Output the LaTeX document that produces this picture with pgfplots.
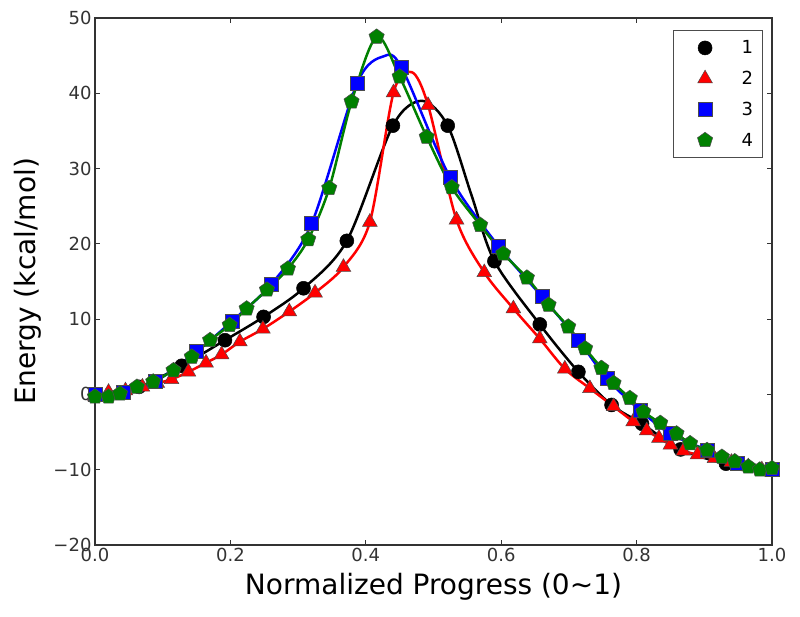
\documentclass[border=0pt]{standalone}
\usepackage{fontspec}
\setmainfont{DejaVu Sans}
\usepackage{pgfplots}
\pgfplotsset{compat=1.18}
\definecolor{mplgreen}{rgb}{0,0.5,0}
\begin{document}
\begin{tikzpicture}
\path[use as bounding box] (-95pt,-72pt) rectangle (705pt,545pt);
\begin{axis}[
  at={(0,0)}, anchor=south west,
  scale only axis, width=677pt, height=527pt,
  xmin=0, xmax=1, ymin=-20, ymax=50,
  xtick={0,0.2,0.4,0.6,0.8,1}, xticklabels={0.0,0.2,0.4,0.6,0.8,1.0},
  ytick={-20,-10,0,10,20,30,40,50}, yticklabels={−20,−10,0,10,20,30,40,50},
  tick align=inside, major tick length=5pt,
  tick label style={font=\fontsize{18}{22}\selectfont, text=black!80},
  every tick/.style={black!80, line width=0.8pt},
  axis line style={black!80, line width=1.2pt},
  xlabel={Normalized Progress (0\textasciitilde 1)},
  ylabel={Energy (kcal/mol)},
  label style={font=\fontsize{28}{34}\selectfont},
  xlabel style={at={(axis description cs:0.5,0)}, anchor=base, yshift=-50pt},
  ylabel style={at={(axis description cs:-0.1,0.5)}, anchor=center},
  legend style={at={(0.986,0.977)}, anchor=north east, draw=black!70, line width=1pt,
    font=\fontsize{18}{22}\selectfont, row sep=12pt, inner xsep=7pt, inner ysep=8pt},
  legend cell align=left,
  legend image code/.code={\path (0pt,0pt) (58pt,0pt);
    \draw[#1,mark repeat=2,mark phase=2] plot coordinates {(0pt,0pt)(24pt,0pt)(48pt,0pt)};},
]
% series 1
\addplot[black, line width=2.5pt, smooth, forget plot] coordinates {
(0.000,0.0) (0.065,1.0) (0.128,3.8) (0.192,7.2) (0.249,10.3) (0.308,14.1) (0.372,20.4)
(0.440,35.7) (0.483,39.0) (0.521,35.7) (0.556,26.5) (0.590,17.7) (0.657,9.3)
(0.714,3.0) (0.763,-1.4) (0.808,-3.9) (0.865,-7.3) (0.932,-9.2) (1.000,-10.0)};
\addplot[only marks, mark=*, mark size=7pt, mark options={fill=black, draw=black, line width=0.5pt}] coordinates {
(0.000,0.0) (0.065,1.0) (0.128,3.8) (0.192,7.2) (0.249,10.3) (0.308,14.1) (0.372,20.4)
(0.440,35.7) (0.521,35.7) (0.590,17.7) (0.657,9.3)
(0.714,3.0) (0.763,-1.4) (0.808,-3.9) (0.865,-7.3) (0.932,-9.2) (1.000,-10.0)};
\addlegendentry{1}
% series 2
\addplot[red, line width=2.5pt, smooth, forget plot] coordinates {
(0.000,-0.3) (0.020,0.3) (0.045,0.5) (0.070,1.0) (0.092,1.5) (0.113,2.0) (0.138,3.0)
(0.164,4.2) (0.187,5.3) (0.214,7.0) (0.248,8.7) (0.287,11.0) (0.325,13.5) (0.367,16.9)
(0.406,22.9) (0.441,40.1) (0.468,42.8) (0.492,38.4) (0.534,23.2)
(0.575,16.2) (0.618,11.4) (0.657,7.4) (0.694,3.4) (0.731,0.8) (0.766,-1.6) (0.795,-3.6)
(0.815,-4.8) (0.833,-5.8) (0.850,-6.7) (0.869,-7.5) (0.890,-8.0) (0.915,-8.5) (0.940,-9.0)
(0.965,-9.6) (0.985,-10.0) (1.000,-10.3)};
\addplot[only marks, mark=triangle*, mark size=8.5pt, mark options={fill=red, draw=black!70, line width=0.5pt}] coordinates {
(0.000,-0.3) (0.020,0.3) (0.045,0.5) (0.070,1.0) (0.092,1.5) (0.113,2.0) (0.138,3.0)
(0.164,4.2) (0.187,5.3) (0.214,7.0) (0.248,8.7) (0.287,11.0) (0.325,13.5) (0.367,16.9)
(0.406,22.9) (0.441,40.1) (0.492,38.4) (0.534,23.2)
(0.575,16.2) (0.618,11.4) (0.657,7.4) (0.694,3.4) (0.731,0.8) (0.766,-1.6) (0.795,-3.6)
(0.815,-4.8) (0.833,-5.8) (0.850,-6.7) (0.869,-7.5) (0.890,-8.0) (0.915,-8.5) (0.940,-9.0)
(0.965,-9.6) (0.985,-10.0) (1.000,-10.3)};
\addlegendentry{2}
% series 3
\addplot[blue, line width=2.5pt, smooth, forget plot] coordinates {
(0.000,0.0) (0.041,0.3) (0.089,1.7) (0.150,5.7) (0.202,9.7) (0.261,14.7) (0.320,22.7)
(0.387,41.3) (0.426,44.9) (0.453,43.4) (0.524,28.9) (0.596,19.7) (0.660,13.0) (0.714,7.2)
(0.756,2.1) (0.805,-2.1) (0.849,-5.2) (0.904,-7.4) (0.948,-9.2) (1.000,-10.0)};
\addplot[only marks, mark=square*, mark size=7pt, mark options={fill=blue, draw=black!70, line width=0.5pt}] coordinates {
(0.000,0.0) (0.041,0.3) (0.089,1.7) (0.150,5.7) (0.202,9.7) (0.261,14.7) (0.320,22.7)
(0.387,41.3) (0.453,43.4) (0.524,28.9) (0.596,19.7) (0.660,13.0) (0.714,7.2)
(0.756,2.1) (0.805,-2.1) (0.849,-5.2) (0.904,-7.4) (0.948,-9.2) (1.000,-10.0)};
\addlegendentry{3}
% series 4
\addplot[mplgreen, line width=2.5pt, smooth, forget plot] coordinates {
(0.000,-0.3) (0.020,-0.3) (0.037,0.1) (0.062,1.0) (0.086,1.7) (0.116,3.2) (0.143,5.0)
(0.170,7.2) (0.199,9.2) (0.224,11.4) (0.254,13.9) (0.285,16.7) (0.315,20.6) (0.346,27.4)
(0.379,38.9) (0.416,47.5) (0.450,42.2) (0.490,34.2) (0.527,27.5) (0.569,22.5) (0.603,18.7)
(0.638,15.5) (0.670,11.9) (0.699,9.0) (0.724,6.1) (0.748,3.5) (0.766,1.5) (0.790,-0.5)
(0.810,-2.3) (0.835,-3.8) (0.859,-5.2) (0.879,-6.5) (0.904,-7.4) (0.926,-8.3) (0.945,-8.9)
(0.965,-9.6) (0.982,-10.0) (1.000,-9.8)};
\addplot[only marks, mark=pentagon*, mark size=8pt, mark options={fill=mplgreen, draw=black!70, line width=0.5pt}] coordinates {
(0.000,-0.3) (0.020,-0.3) (0.037,0.1) (0.062,1.0) (0.086,1.7) (0.116,3.2) (0.143,5.0)
(0.170,7.2) (0.199,9.2) (0.224,11.4) (0.254,13.9) (0.285,16.7) (0.315,20.6) (0.346,27.4)
(0.379,38.9) (0.416,47.5) (0.450,42.2) (0.490,34.2) (0.527,27.5) (0.569,22.5) (0.603,18.7)
(0.638,15.5) (0.670,11.9) (0.699,9.0) (0.724,6.1) (0.748,3.5) (0.766,1.5) (0.790,-0.5)
(0.810,-2.3) (0.835,-3.8) (0.859,-5.2) (0.879,-6.5) (0.904,-7.4) (0.926,-8.3) (0.945,-8.9)
(0.965,-9.6) (0.982,-10.0) (1.000,-9.8)};
\addlegendentry{4}
\end{axis}
\end{tikzpicture}
\end{document}
